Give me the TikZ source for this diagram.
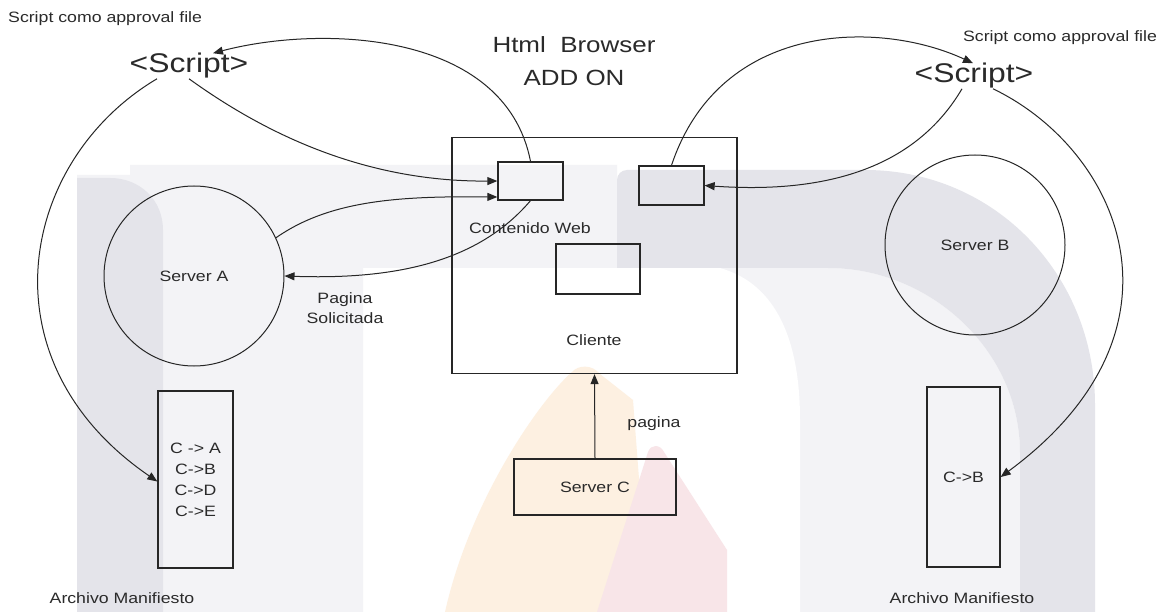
\documentclass[tikz,border=0pt]{standalone}
\usepackage{fontspec}
\setmainfont{Liberation Sans}[FakeStretch=1.18]
\usetikzlibrary{arrows.meta}

\definecolor{ink}{HTML}{262626}
\definecolor{txt}{HTML}{2A2A2A}
\definecolor{wmdark}{HTML}{E4E4EA}
\definecolor{wmlight}{HTML}{F3F3F6}
\definecolor{wmorange}{HTML}{FDF0E1}
\definecolor{wmred}{HTML}{F8E5E8}

\begin{document}
\begin{tikzpicture}[x=1pt,y=-1pt,
  lbl/.style={text=txt, inner sep=0pt, font=\fontsize{15}{18}\selectfont},
  bigtag/.style={text=txt, inner sep=0pt, font=\fontsize{27}{30}\selectfont},
  heading/.style={text=txt, inner sep=0pt, align=center, font=\fontsize{22}{33}\selectfont},
  box/.style={draw=ink, line width=1.3pt, inner sep=0pt, text=txt, font=\fontsize{15}{21}\selectfont, align=center},
  srv/.style={draw=ink, line width=1pt, circle, minimum size=180pt, inner sep=0pt, text=txt, font=\fontsize{15}{18}\selectfont},
  link/.style={draw=ink, line width=1pt, -{Triangle[length=10pt,width=8pt]}},
]
% page area
\fill[white] (0,0) rectangle (1165,612);
\useasboundingbox (0,0) rectangle (1165,612);

% ---- background emblem ----
% left emblem
\fill[wmlight] (130,165) -- (617,165) -- (617,268) -- (363,268) -- (363,612)
  -- (77,612) -- (77,175) -- (130,175) -- cycle;
\fill[wmdark] (77,612) -- (77,178) -- (110,178) .. controls (140,178) and (163,200) .. (163,230)
  -- (163,612) -- cycle;
% right emblem
\fill[wmlight] (617,268) -- (828,268) .. controls (930,268) and (1020,350) .. (1020,453)
  -- (1020,612) -- (617,612) -- cycle;
\fill[white] (617,268) -- (720,268) .. controls (770,282) and (800,330) .. (800,420)
  -- (800,612) -- (617,612) -- cycle;
\fill[wmdark] (617,268) -- (617,180) .. controls (617,174.5) and (621.5,170) .. (627,170)
  -- (865,170) .. controls (995,170) and (1095,275) .. (1095,405) -- (1095,612)
  -- (1020,612) -- (1020,453) .. controls (1020,350) and (930,268) .. (828,268) -- cycle;
% flames
\fill[wmorange] (572,372) .. controls (578,365) and (592,364) .. (600,374) -- (633,400)
  -- (641,505) -- (603,612) -- (445,612) .. controls (470,500) and (540,400) .. (572,372) -- cycle;
\fill[wmred] (648,452) .. controls (651,444) and (660,444) .. (664,452) -- (727,550)
  -- (727,612) -- (597,612) -- cycle;

% ---- labels ----
\node[lbl, anchor=west] (noteL) at (8,19) {Script como approval file};
\node[lbl] (noteR) at (1060,38) {Script como approval file};
\node[bigtag] (scriptL) at (189,66) {<Script>};
\node[bigtag] (scriptR) at (974,76) {<Script>};
\node[heading] (browser) at (574,61.5) {Html\ \ Browser\\ADD ON};

% ---- client side ----
\node[box, minimum width=285pt, minimum height=236pt] (cliente) at (594.5,255.5) {};
\node[box, minimum width=65pt, minimum height=38pt] (web1) at (530.5,181) {};
\node[box, minimum width=65pt, minimum height=39pt] (web2) at (671.5,185.5) {};
\node[box, minimum width=84pt, minimum height=50pt] (web3) at (598,269) {};
\node[lbl] (contenido) at (530,228) {Contenido Web};
\node[lbl] (clientetxt) at (594,340) {Cliente};

% ---- servers ----
\node[srv] (serverA) at (194,276) {Server A};
\node[srv] (serverB) at (975,245) {Server B};
\node[box, minimum width=162pt, minimum height=56pt] (serverC) at (595,487) {Server C};

% ---- manifests ----
\node[box, minimum width=75pt, minimum height=177pt] (manA) at (195.5,479.5) {C -> A\\C->B\\C->D\\C->E};
\node[box, minimum width=73pt, minimum height=180pt] (manB) at (963.5,477) {C->B};
\node[lbl] (archA) at (122,598) {Archivo Manifiesto};
\node[lbl] (archB) at (962,598) {Archivo Manifiesto};

\node[lbl, align=center, font=\fontsize{15}{20}\selectfont] (solicitada) at (345,308) {Pagina\\Solicitada};
\node[lbl] (paginatxt) at (654,424) {pagina};

% ---- connectors ----
\draw[link] (web1.north) .. controls (505,30) and (320,25) .. ([xshift=24pt]scriptL.north);
\draw[link] (scriptL.south) .. controls (260,130) and (360,182) .. (web1.west);
\draw[link] (serverA.25) .. controls (330,200) and (400,196) .. ([yshift=-16pt]web1.west);
\draw[link] (web1.south) .. controls (480,260) and (400,280) .. (serverA.east);
\draw[link] ([xshift=-32pt]scriptL.south) .. controls (20,160) and (-20,360) .. ([yshift=-2pt]manA.west);

\draw[link] (web2.north) .. controls (720,20) and (880,20) .. ([xshift=-1pt]scriptR.north);
\draw[link] ([xshift=-12pt]scriptR.south) .. controls (920,160) and (840,195) .. (web2.east);
\draw[link] ([xshift=19pt]scriptR.south) .. controls (1120,150) and (1200,330) .. (manB.east);

\draw[link] (serverC.north) -- (cliente.south);
\end{tikzpicture}
\end{document}
